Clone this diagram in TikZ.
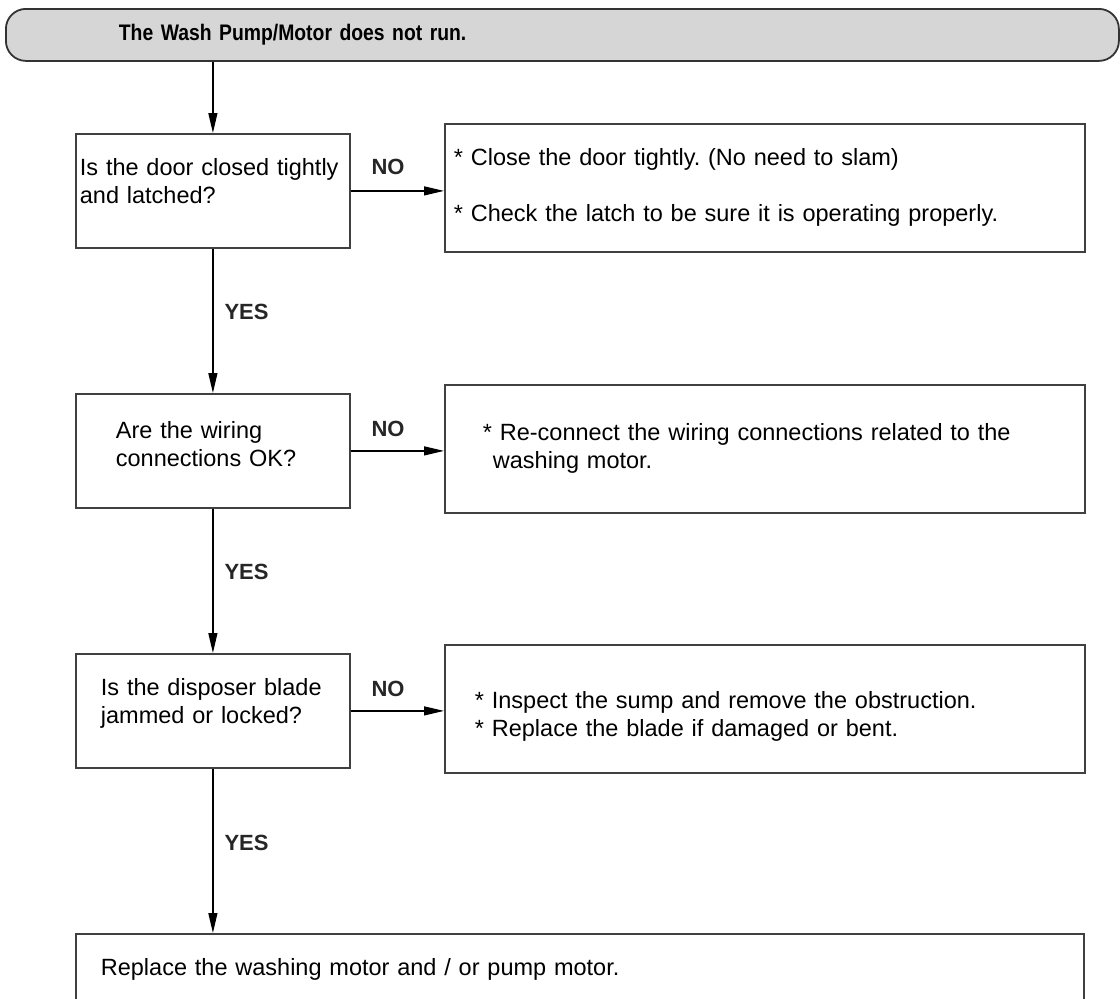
\documentclass[tikz,border=0pt]{standalone}
\usepackage{fontspec}
\setmainfont{Liberation Sans}
\newfontfamily\titlefont{Liberation Sans}[FakeStretch=0.86]
\usetikzlibrary{arrows.meta}
\frenchspacing
\tikzset{
	every node/.style={font=\fontsize{23.5}{28}\selectfont},
	box/.style={draw=black!75, line width=1.8pt, anchor=north west, align=left, inner ysep=0pt},
	qbox/.style={box, minimum width=274, minimum height=114},
	abox/.style={box, minimum width=640, minimum height=128},
	flow/.style={draw=black, line width=1.3pt, -{Triangle[length=20pt,width=9pt]}},
	lbl/.style={font=\fontsize{22}{26}\selectfont\bfseries, text=black!85, inner sep=2pt}
}
\begin{document}
\begin{tikzpicture}[x=1pt, y=-1pt]
				\useasboundingbox (0,0) rectangle (1120,999);
				\node[box, draw=black!80, fill=black!16, rounded corners=20, minimum width=1113, minimum height=52,
					inner xsep=113pt, text width=887pt, font=\titlefont\fontsize{22.5}{26}\selectfont\bfseries] (title) at (5,8) {The Wash Pump/Motor does not run.};
				\node[qbox, inner xsep=4pt, text width=266pt, text depth=47pt] (q1) at (75,133) {Is the door closed tightly\\and latched?};
				\node[abox, inner xsep=9pt, text width=622pt] (a1) at (444,123) {* Close the door tightly. (No need to slam)\\[28pt]* Check the latch to be sure it is operating properly.};
				\node[qbox, inner xsep=40pt, text width=194pt, text depth=41pt] (q2) at (75,393) {Are the wiring\\connections OK?};
				\node[abox, inner xsep=38pt, text width=564pt] (a2) at (444,384) {* Re-connect the wiring connections related to the\\\hspace*{10pt}washing motor.};
				\node[qbox, inner xsep=25pt, text width=224pt, text depth=47pt] (q3) at (75,653) {Is the disposer blade\\jammed or locked?};
				\node[abox, inner xsep=30pt, text width=580pt, text height=33pt] (a3) at (444,644) {* Inspect the sump and remove the obstruction.\\{}* Replace the blade if damaged or bent.};
				\node[box, minimum width=1008, minimum height=72, inner xsep=25pt, text width=958pt] (fix) at (75,933) {Replace the washing motor and / or pump motor.};
				\draw[flow] (title.south -| q1.north) -- (q1.north);
				\draw[flow] (q1.east) -- node[lbl, pos=0.4, above=14pt] (no1) {NO} (q1.east -| a1.west);
				\draw[flow] (q2.east) -- node[lbl, pos=0.4, above=12pt] (no2) {NO} (q2.east -| a2.west);
				\draw[flow] (q3.east) -- node[lbl, pos=0.4, above=12pt] (no3) {NO} (q3.east -| a3.west);
				\draw[flow] (q1.south) -- node[lbl, pos=0.44, right=9pt] (yes1) {YES} (q2.north);
				\draw[flow] (q2.south) -- node[lbl, pos=0.44, right=9pt] (yes2) {YES} (q3.north);
				\draw[flow] (q3.south) -- node[lbl, pos=0.45, right=9pt] (yes3) {YES} (q3.south |- fix.north);
\end{tikzpicture}
\end{document}
